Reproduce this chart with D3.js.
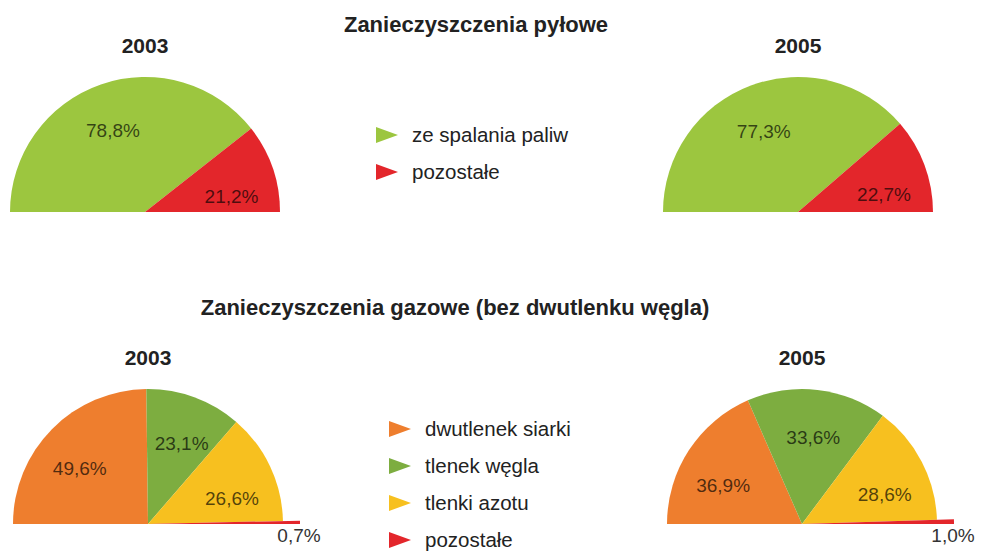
<!DOCTYPE html>
<html>
<head>
<meta charset="utf-8">
<script src="https://cdn.jsdelivr.net/npm/d3@7"></script>
<style>
  body { margin: 0; background: #fff; }
  svg { display: block; font-family: "Liberation Sans", Arial, sans-serif; }
</style>
</head>
<body>
<script>
// data
var years = ["2003", "2005"];
var dustCategories = ["ze spalania paliw", "pozostałe"];
var dust2003 = [78.8, 21.2];
var dust2005 = [77.3, 22.7];
var gasCategories = ["dwutlenek siarki", "tlenek węgla", "tlenki azotu", "pozostałe"];
var gas2003 = [49.6, 23.1, 26.6, 0.7];
var gas2005 = [36.9, 33.6, 28.6, 1.0];

var dustColors = ["#9cc63f", "#e3262b"];
var gasColors = ["#ee7e2e", "#7dad40", "#f7c01f", "#e3262b"];

var width = 984,
    height = 552,
    radius = 135;

var svg = d3.select("body")
    .append("svg")
    .attr("width", width)
    .attr("height", height);

var fmt = function (v) { return d3.format(".1f")(v).replace(".", ",") + "%"; };

var pie = d3.pie()
    .sort(null)
    .startAngle(-Math.PI / 2)
    .endAngle(Math.PI / 2);

function halfPie(cx, cy, values, colors, year) {
    var g = svg.append("g").attr("transform", "translate(" + cx + "," + cy + ")");
    var arcs = pie(values);
    // tiny slices stick out past the rim
    var arc = d3.arc()
        .innerRadius(0)
        .outerRadius(function (d) { return d.value < 2 ? radius + 17 : radius; });

    g.selectAll("path")
        .data(arcs)
        .enter()
        .append("path")
        .attr("d", arc)
        .style("fill", function (d, i) { return colors[i]; });

    g.selectAll("text.lbl")
        .data(arcs)
        .enter()
        .append("text")
        .attr("class", "lbl")
        .attr("text-anchor", "middle")
        .attr("font-size", 19)
        .attr("transform", function (d) {
            if (d.value < 2) return "translate(" + (radius + 16) + ",18)";
            var a = (d.startAngle + d.endAngle) / 2 * 1.12;
            var r = 88;
            return "translate(" + (r * Math.sin(a)) + "," + (-r * Math.cos(a) + 7) + ")";
        })
        .style("fill", function (d) { return d.value < 2 ? "#333" : "#000"; })
        .style("fill-opacity", function (d) { return d.value < 2 ? 1 : 0.68; })
        .text(function (d) { return fmt(d.value); });

    g.append("text")
        .attr("x", 0)
        .attr("y", -radius - 24)
        .attr("text-anchor", "middle")
        .attr("font-size", 21)
        .attr("font-weight", "bold")
        .style("fill", "#222")
        .text(year);
}

function legend(x, y, step, cats, colors) {
    var g = svg.append("g").attr("transform", "translate(" + x + "," + y + ")");
    var rows = g.selectAll("g")
        .data(cats)
        .enter()
        .append("g")
        .attr("transform", function (d, i) { return "translate(0," + (i * step) + ")"; });
    rows.append("path")
        .attr("d", "M0,-8L22,0L0,8Z")
        .style("fill", function (d, i) { return colors[i]; });
    rows.append("text")
        .attr("x", 36)
        .attr("y", 7)
        .attr("font-size", 20.5)
        .style("fill", "#222")
        .text(function (d) { return d; });
}

// titles
svg.append("text")
    .attr("x", 476).attr("y", 32)
    .attr("text-anchor", "middle")
    .attr("font-size", 22).attr("font-weight", "bold")
    .style("fill", "#222")
    .text("Zanieczyszczenia pyłowe");

svg.append("text")
    .attr("x", 455).attr("y", 315)
    .attr("text-anchor", "middle")
    .attr("font-size", 22).attr("font-weight", "bold")
    .style("fill", "#222")
    .text("Zanieczyszczenia gazowe (bez dwutlenku węgla)");

halfPie(145, 212, dust2003, dustColors, years[0]);
halfPie(798, 212, dust2005, dustColors, years[1]);
halfPie(148, 524, gas2003, gasColors, years[0]);
halfPie(802, 524, gas2005, gasColors, years[1]);

legend(376, 135, 37, dustCategories, dustColors);
legend(389, 429, 37, gasCategories, gasColors);
</script>
</body>
</html>
